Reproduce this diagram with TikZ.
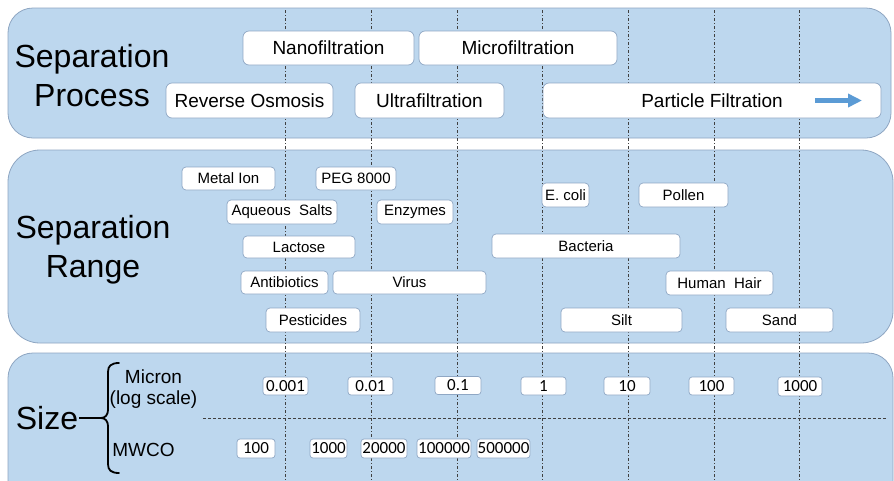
\documentclass[tikz,border=0pt]{standalone}
\usepackage{fontspec}
\setmainfont{Liberation Sans}
\newfontfamily\numfont{Carlito}
\usetikzlibrary{arrows.meta}
\definecolor{panelblue}{HTML}{BDD7EE}
\definecolor{panelline}{HTML}{8EA6C2}
\definecolor{boxline}{HTML}{8FA7C4}
\definecolor{gridgray}{HTML}{404040}
\definecolor{arrowblue}{HTML}{5B9BD5}
\tikzset{
  panel/.style={fill=panelblue, draw=panelline, line width=0.8pt},
  boxbase/.style={draw=boxline, fill=white, line width=0.7pt, inner sep=0pt, text=black},
  bigbox/.style={boxbase, rounded corners=6pt, font=\fontsize{19}{22}\selectfont},
  midbox/.style={boxbase, rounded corners=4pt, font=\fontsize{15}{18}\selectfont},
  numbox/.style={boxbase, rounded corners=3pt, font=\numfont\fontsize{17}{19}\selectfont},
  gridline/.style={draw=gridgray, line width=0.6pt, dash pattern=on 3pt off 2pt on 1pt off 2pt},
  hgrid/.style={draw=gridgray, line width=0.6pt, dash pattern=on 3pt off 2pt},
  biglabel/.style={font=\fontsize{32}{39}\selectfont, align=center, inner sep=1pt, text=black},
  sublabel/.style={font=\fontsize{19}{23}\selectfont, inner sep=0pt, text=black},
  bracepath/.style={draw=black, line width=1.8pt},
  blue arrow/.style={draw=arrowblue, line width=4.5pt, -{Triangle[length=14pt,width=13pt]}},
}
\begin{document}
\begin{tikzpicture}[x=1pt, y=-1pt]
\clip (0,0) rectangle (894,480);
\fill[white] (0,0) rectangle (894,480);
% panels
\draw[panel, rounded corners=25pt] (8,8) rectangle (891,138);
\draw[panel, rounded corners=32pt] (8,150) rectangle (893,343);
\draw[panel, rounded corners=25pt] (8,353) rectangle (893,505);
% grid lines
\foreach \gx/\gn in {285/a,371/b,457/c,542/d,628/e,714/f,799/g}{
  \coordinate (gt\gn) at (\gx,10);
  \coordinate (gb\gn) at (\gx,480);
  \draw[gridline] (gt\gn) -- (gb\gn);
}
\coordinate (hl) at (203,418);
\coordinate (hr) at (887,418);
\draw[hgrid] (hl) -- (hr);
% labels
\node[biglabel] (sp) at (92,76) {Separation\\Process};
\node[biglabel] (sr) at (93,250) {Separation\\Range};
\node[biglabel] (size) at (47,418) {Size};
% top boxes
\node[bigbox, minimum width=171pt, minimum height=34pt] (nano) at (328.5,48) {Nanofiltration};
\node[bigbox, minimum width=198pt, minimum height=34pt] (micro) at (518,48) {Microfiltration};
\node[bigbox, minimum width=167pt, minimum height=35pt] (ro) at (249.5,100.5) {Reverse Osmosis};
\node[bigbox, minimum width=149pt, minimum height=35pt] (ultra) at (429.5,100.5) {Ultrafiltration};
\node[bigbox, minimum width=338pt, minimum height=35pt] (pf) at (712,100.5) {Particle Filtration\hspace{40pt}};
\coordinate (arrs) at (815,100.5);
\coordinate (arre) at (862,100.5);
\draw[blue arrow] (arrs) -- (arre);
% middle boxes
\node[midbox, minimum width=93pt, minimum height=23pt] (metal) at (228.5,178.5) {Metal Ion};
\node[midbox, minimum width=80pt, minimum height=23pt] (peg) at (356,178.5) {PEG 8000};
\node[midbox, minimum width=110pt, minimum height=24pt] (aq) at (282,212) {Aqueous~~Salts};
\node[midbox, minimum width=76pt, minimum height=24pt] (enz) at (415,212) {Enzymes};
\node[midbox, minimum width=112pt, minimum height=22pt] (lac) at (299,247) {Lactose};
\node[midbox, minimum width=87pt, minimum height=23pt] (anti) at (284.5,282.5) {Antibiotics};
\node[midbox, minimum width=153pt, minimum height=23pt] (virus) at (409.5,282.5) {Virus};
\node[midbox, minimum width=94pt, minimum height=24pt] (pest) at (313,320) {Pesticides};
\node[midbox, minimum width=47pt, minimum height=24pt] (ecoli) at (565.5,195) {E. coli};
\node[midbox, minimum width=89pt, minimum height=24pt] (pollen) at (683.5,195) {Pollen};
\node[midbox, minimum width=188pt, minimum height=24pt] (bact) at (586,246) {Bacteria};
\node[midbox, minimum width=107pt, minimum height=24pt] (hair) at (719.5,283) {Human~~Hair};
\node[midbox, minimum width=121pt, minimum height=24pt] (silt) at (621.5,320) {Silt};
\node[midbox, minimum width=107pt, minimum height=24pt] (sand) at (779.5,320) {Sand};
% size labels
\node[sublabel] (micron) at (153.5,377) {Micron};
\node[sublabel] (logs) at (153.5,400) {(log scale)};
\node[sublabel] (mwco) at (143.5,450) {MWCO};
\coordinate (btip) at (101,418);
\draw[bracepath] (size.east) -- (btip);
\draw[bracepath, line cap=round] (119,363) .. controls (111,363) and (108,366) .. (108,372) -- (108,410) .. controls (108,415) and (105,418) .. (btip) .. controls (105,418) and (108,421) .. (108,426) -- (108,464) .. controls (108,470) and (111,473) .. (119,473);
% micron boxes
\node[numbox, minimum width=45pt, minimum height=18pt] (u1) at (285.5,386) {0.001};
\node[numbox, minimum width=45pt, minimum height=18pt] (u2) at (370.5,386) {0.01};
\node[numbox, minimum width=46pt, minimum height=18pt] (u3) at (458,385.5) {0.1};
\node[numbox, minimum width=45pt, minimum height=18pt] (u4) at (543.5,386) {1};
\node[numbox, minimum width=46pt, minimum height=18pt] (u5) at (627,386) {10};
\node[numbox, minimum width=45pt, minimum height=18pt] (u6) at (711.5,386) {100};
\node[numbox, minimum width=44pt, minimum height=19pt] (u7) at (800,386.5) {1000};
% mwco boxes
\node[numbox, minimum width=38pt, minimum height=19pt] (m1) at (256,448.5) {100};
\node[numbox, minimum width=37pt, minimum height=19pt] (m2) at (328.5,448.5) {1000};
\node[numbox, minimum width=46pt, minimum height=19pt] (m3) at (384,448.5) {20000};
\node[numbox, minimum width=54pt, minimum height=19pt] (m4) at (444,448.5) {100000};
\node[numbox, minimum width=53pt, minimum height=19pt] (m5) at (503.5,448.5) {500000};
\end{tikzpicture}
\end{document}
